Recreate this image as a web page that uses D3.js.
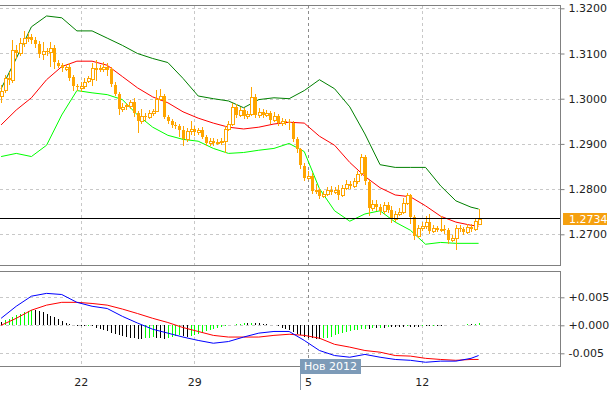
<!DOCTYPE html>
<html>
<head>
<meta charset="utf-8" />
<title>EURUSD H4</title>
<script src="https://d3js.org/d3.v7.min.js"></script>
<style>
  body { margin: 0; background: #fff; }
  text { font-family: "DejaVu Sans", Verdana, sans-serif; font-size: 11px; }
</style>
</head>
<body>
<svg id="chart" width="614" height="396"></svg>
<script>
// 4H candles, index 0 = first visible bar
var opens = [
  1.3006, 1.3018, 1.3045, 1.3040, 1.3107, 1.3100, 1.3123, 1.3134, 1.3136, 1.3130,
  1.3121, 1.3098, 1.3105, 1.3103, 1.3112, 1.3080, 1.3074, 1.3067, 1.3071, 1.3047,
  1.3027, 1.3024, 1.3029, 1.3038, 1.3045, 1.3069, 1.3065, 1.3067, 1.3071, 1.3065,
  1.3031, 1.3011, 1.2977, 1.2982, 1.2985, 1.2993, 1.2968, 1.2951, 1.2962, 1.2960,
  1.2968, 1.2973, 1.3000, 1.3006, 1.2960, 1.2951, 1.2942, 1.2939, 1.2930, 1.2910,
  1.2928, 1.2933, 1.2926, 1.2930, 1.2915, 1.2901, 1.2906, 1.2901, 1.2904, 1.2906,
  1.2933, 1.2944, 1.2982, 1.2964, 1.2975, 1.2962, 1.2966, 1.3004, 1.2964, 1.2971,
  1.2964, 1.2968, 1.2953, 1.2962, 1.2946, 1.2951, 1.2948, 1.2946, 1.2910, 1.2888,
  1.2852, 1.2825, 1.2830, 1.2796, 1.2798, 1.2785, 1.2790, 1.2798, 1.2794, 1.2798,
  1.2787, 1.2803, 1.2812, 1.2807, 1.2819, 1.2834, 1.2870, 1.2816, 1.2758, 1.2767,
  1.2760, 1.2751, 1.2765, 1.2754, 1.2734, 1.2745, 1.2749, 1.2769, 1.2787, 1.2738,
  1.2696, 1.2713, 1.2718, 1.2727, 1.2707, 1.2713, 1.2709, 1.2711, 1.2709, 1.2687,
  1.2691, 1.2713, 1.2711, 1.2704, 1.2716, 1.2711, 1.2722
];
var highs = [
  1.3030, 1.3052, 1.3058, 1.3130, 1.3118, 1.3135, 1.3150, 1.3145, 1.3143, 1.3136,
  1.3128, 1.3125, 1.3112, 1.3125, 1.3118, 1.3086, 1.3080, 1.3077, 1.3078, 1.3052,
  1.3032, 1.3036, 1.3045, 1.3050, 1.3080, 1.3085, 1.3075, 1.3082, 1.3078, 1.3070,
  1.3036, 1.3015, 1.2990, 1.2990, 1.2998, 1.3002, 1.2972, 1.2978, 1.2968, 1.2975,
  1.2978, 1.3020, 1.3022, 1.3010, 1.2965, 1.2955, 1.2948, 1.2945, 1.2940, 1.2935,
  1.2950, 1.2940, 1.2936, 1.2938, 1.2920, 1.2912, 1.2912, 1.2910, 1.2912, 1.2940,
  1.2950, 1.2990, 1.2988, 1.2982, 1.2980, 1.2972, 1.3025, 1.3010, 1.2980, 1.2978,
  1.2975, 1.2972, 1.2970, 1.2966, 1.2958, 1.2956, 1.2955, 1.2950, 1.2915, 1.2892,
  1.2858, 1.2840, 1.2835, 1.2812, 1.2802, 1.2796, 1.2804, 1.2806, 1.2805, 1.2810,
  1.2808, 1.2820, 1.2818, 1.2825, 1.2840, 1.2878, 1.2875, 1.2820, 1.2775, 1.2775,
  1.2768, 1.2772, 1.2772, 1.2762, 1.2752, 1.2758, 1.2780, 1.2792, 1.2790, 1.2742,
  1.2720, 1.2728, 1.2740, 1.2745, 1.2720, 1.2718, 1.2740, 1.2720, 1.2714, 1.2698,
  1.2720, 1.2720, 1.2716, 1.2722, 1.2722, 1.2735, 1.2757
];
var lows = [
  1.2990, 1.3012, 1.3030, 1.3035, 1.3088, 1.3095, 1.3115, 1.3125, 1.3120, 1.3112,
  1.3090, 1.3085, 1.3094, 1.3070, 1.3065, 1.3068, 1.3058, 1.3062, 1.3040, 1.3018,
  1.3017, 1.3015, 1.3022, 1.3034, 1.3028, 1.3040, 1.3058, 1.3060, 1.3050, 1.3025,
  1.3005, 1.2965, 1.2970, 1.2975, 1.2978, 1.2960, 1.2925, 1.2945, 1.2950, 1.2955,
  1.2962, 1.2970, 1.2995, 1.2955, 1.2945, 1.2936, 1.2932, 1.2915, 1.2895, 1.2905,
  1.2920, 1.2918, 1.2920, 1.2910, 1.2895, 1.2896, 1.2895, 1.2898, 1.2898, 1.2880,
  1.2928, 1.2940, 1.2958, 1.2960, 1.2955, 1.2955, 1.2962, 1.2958, 1.2958, 1.2958,
  1.2960, 1.2945, 1.2948, 1.2940, 1.2940, 1.2942, 1.2930, 1.2905, 1.2880, 1.2845,
  1.2818, 1.2820, 1.2790, 1.2790, 1.2778, 1.2780, 1.2785, 1.2788, 1.2790, 1.2775,
  1.2782, 1.2798, 1.2800, 1.2802, 1.2812, 1.2830, 1.2810, 1.2740, 1.2752, 1.2752,
  1.2742, 1.2745, 1.2748, 1.2725, 1.2728, 1.2740, 1.2745, 1.2765, 1.2722, 1.2688,
  1.2692, 1.2708, 1.2712, 1.2700, 1.2702, 1.2704, 1.2705, 1.2700, 1.2678, 1.2682,
  1.2665, 1.2705, 1.2698, 1.2700, 1.2706, 1.2708, 1.2720
];
var closes = [
  1.3018, 1.3045, 1.3040, 1.3107, 1.3100, 1.3123, 1.3134, 1.3136, 1.3130, 1.3121,
  1.3098, 1.3105, 1.3103, 1.3112, 1.3080, 1.3074, 1.3067, 1.3071, 1.3047, 1.3027,
  1.3024, 1.3029, 1.3038, 1.3045, 1.3069, 1.3065, 1.3067, 1.3071, 1.3065, 1.3031,
  1.3011, 1.2977, 1.2982, 1.2985, 1.2993, 1.2968, 1.2951, 1.2962, 1.2960, 1.2968,
  1.2973, 1.3000, 1.3006, 1.2960, 1.2951, 1.2942, 1.2939, 1.2930, 1.2910, 1.2928,
  1.2933, 1.2926, 1.2930, 1.2915, 1.2901, 1.2906, 1.2901, 1.2904, 1.2906, 1.2933,
  1.2944, 1.2982, 1.2964, 1.2975, 1.2962, 1.2966, 1.3004, 1.2964, 1.2971, 1.2964,
  1.2968, 1.2953, 1.2962, 1.2946, 1.2951, 1.2948, 1.2946, 1.2910, 1.2888, 1.2852,
  1.2825, 1.2830, 1.2796, 1.2798, 1.2785, 1.2790, 1.2798, 1.2794, 1.2798, 1.2787,
  1.2803, 1.2812, 1.2807, 1.2819, 1.2834, 1.2870, 1.2816, 1.2758, 1.2767, 1.2760,
  1.2751, 1.2765, 1.2754, 1.2734, 1.2745, 1.2749, 1.2769, 1.2787, 1.2738, 1.2696,
  1.2713, 1.2718, 1.2727, 1.2707, 1.2713, 1.2709, 1.2711, 1.2709, 1.2687, 1.2691,
  1.2713, 1.2711, 1.2704, 1.2716, 1.2711, 1.2729, 1.2734
];

// Bollinger bands, read every 4 bars
var bandIndex = [0, 4, 8, 12, 16, 20, 24, 28, 32, 36, 40, 44, 48, 52, 56, 60,
  64, 68, 72, 76, 80, 84, 88, 92, 96, 100, 104, 108, 112, 116, 120, 124, 126];
var bandUpper = [1.3022, 1.3089, 1.3159, 1.3183, 1.3179, 1.3150, 1.3150, 1.3134,
  1.3118, 1.3100, 1.3089, 1.3080, 1.3045, 1.3006, 1.3000, 1.2995, 1.2980, 1.2998,
  1.3002, 1.3000, 1.3018, 1.3042, 1.3022, 1.2982, 1.2922, 1.2854, 1.2848, 1.2848,
  1.2848, 1.2807, 1.2774, 1.2760, 1.2756];
var bandMiddle = [1.2942, 1.2975, 1.3002, 1.3042, 1.3071, 1.3083, 1.3083, 1.3074,
  1.3049, 1.3024, 1.3004, 1.2991, 1.2971, 1.2957, 1.2946, 1.2937, 1.2933, 1.2937,
  1.2944, 1.2948, 1.2946, 1.2917, 1.2897, 1.2859, 1.2828, 1.2803, 1.2787, 1.2783,
  1.2763, 1.2740, 1.2727, 1.2720, 1.2718];
var bandLower = [1.2872, 1.2879, 1.2872, 1.2897, 1.2964, 1.3018, 1.3013, 1.3009,
  1.2998, 1.2964, 1.2937, 1.2919, 1.2910, 1.2906, 1.2890, 1.2879, 1.2881, 1.2886,
  1.2890, 1.2901, 1.2883, 1.2801, 1.2752, 1.2729, 1.2745, 1.2752, 1.2727, 1.2709,
  1.2678, 1.2682, 1.2680, 1.2680, 1.2680];

// MACD main and signal lines at the same bars
var macdMain = [0.00125, 0.0034, 0.0052, 0.0057, 0.0055, 0.0041, 0.0034, 0.0030,
  0.0016, 0.0004, -0.0007, -0.0014, -0.0021, -0.0027, -0.0032, -0.0029, -0.0021,
  -0.0014, -0.0011, -0.0011, -0.0027, -0.0045, -0.0054, -0.0057, -0.0052, -0.0057,
  -0.0061, -0.00625, -0.0066, -0.0064, -0.0064, -0.0059, -0.0054];
var macdSignal = [0.0000, 0.00125, 0.0027, 0.0036, 0.0041, 0.0041, 0.0039, 0.0036,
  0.0029, 0.0021, 0.00125, 0.0005, -0.0004, -0.0011, -0.0018, -0.0021, -0.0021,
  -0.0021, -0.0018, -0.0016, -0.0018, -0.0023, -0.0034, -0.0039, -0.0045, -0.0048,
  -0.0054, -0.0055, -0.0059, -0.0061, -0.00625, -0.0061, -0.0061];

// histogram, one value per bar
var macdHist = [
  0.0006, 0.0009, 0.0012, 0.0015, 0.0018, 0.0021, 0.0024, 0.0026, 0.0028,
  0.0027, 0.0025, 0.0023, 0.0020, 0.0017, 0.0014, 0.0011, 0.0008, 0.0005, 0.0003,
  0.0001, -0.0001, -0.0001, -0.0002, -0.0001, -0.0002,
  -0.0004, -0.0006, -0.0009, -0.0011, -0.0013, -0.0015, -0.0017, -0.0019, -0.0020, -0.0022, -0.0023, -0.0024, -0.0024,
  -0.0023, -0.0022, -0.0021, -0.0022, -0.0023, -0.0024, -0.0022, -0.0020, -0.0019, -0.0018,
  -0.0019, -0.0020, -0.0019, -0.0017, -0.0015, -0.0013, -0.0011, -0.0009, -0.0007, -0.0005, -0.0003, -0.0001, 0.0000,
  0.0001, 0.0002, 0.0003, 0.0004, 0.0004, 0.0005, 0.0005, 0.0004, 0.0003, 0.0002, 0.0001, 0.0000,
  -0.0002, -0.0004, -0.0006, -0.0009, -0.0012, -0.0015, -0.0018, -0.0020, -0.0022, -0.0023, -0.0024, -0.0024, -0.0023, -0.0022,
  -0.0020, -0.0018, -0.0016, -0.0014, -0.0012, -0.0010, -0.0009, -0.0008, -0.0007, -0.0006, -0.0006, -0.0005, -0.0005, -0.0004,
  -0.0004, -0.0003, -0.0003, -0.0003, -0.0003, -0.0003, -0.0002, -0.0003, -0.0003, -0.0003, -0.0002, -0.0002, -0.0002,
  -0.0001, -0.0001, -0.0001, 0.0000, 0.0000, 0.0001, 0.0001, 0.0001, 0.0001, 0.0002, 0.0002, 0.0003, 0.0005
];

var tickIndex = [21, 51, 81, 111];
var tickLabels = ["22", "29", "5", "12"];
var monthLabel = "Нов 2012";
var priceTicks = [1.27, 1.28, 1.29, 1.30, 1.31, 1.32];
var macdTicks = [-0.005, 0, 0.005];
var lastPrice = 1.2734;

var svg = d3.select("#chart");
var x = d3.scaleLinear().domain([0, 126]).range([1.1, 478.6]);
var y = d3.scaleLinear().domain([1.27, 1.32]).range([234.3, 8.3]);
var yM = d3.scaleLinear().domain([-0.005, 0.005]).range([353.3, 297.3]);
var px = function(v){ return Math.round(v) + 0.5; };

svg.append("rect").attr("width", 614).attr("height", 396).attr("fill", "#fff");

var defs = svg.append("defs");
defs.append("clipPath").attr("id", "clipMain").append("rect")
  .attr("x", 0).attr("y", 5).attr("width", 560).attr("height", 260);
defs.append("clipPath").attr("id", "clipMacd").append("rect")
  .attr("x", 0).attr("y", 271).attr("width", 560).attr("height", 95);

// grid
var grid = svg.append("g").attr("shape-rendering", "crispEdges");
grid.selectAll(".hg").data(priceTicks).enter().append("line")
  .attr("x1", 0).attr("x2", 560)
  .attr("y1", function(d){ return px(y(d)); }).attr("y2", function(d){ return px(y(d)); })
  .attr("stroke", "#c8c8c8").attr("stroke-dasharray", "3,3");
grid.selectAll(".hm").data(macdTicks).enter().append("line")
  .attr("x1", 0).attr("x2", 560)
  .attr("y1", function(d){ return px(yM(d)); }).attr("y2", function(d){ return px(yM(d)); })
  .attr("stroke", "#c8c8c8").attr("stroke-dasharray", "3,3");
[[5, 265], [271, 366]].forEach(function(r){
  grid.selectAll(null).data(tickIndex).enter().append("line")
    .attr("x1", function(d){ return px(x(d)); }).attr("x2", function(d){ return px(x(d)); })
    .attr("y1", r[0]).attr("y2", r[1])
    .attr("stroke", function(d){ return d === 81 ? "#8c8c8c" : "#c8c8c8"; })
    .attr("stroke-dasharray", "3,3");
});

// main panel
var main = svg.append("g").attr("clip-path", "url(#clipMain)");
var bandLine = function(arr){
  return d3.line().x(function(d, i){ return x(bandIndex[i]); })
    .y(function(d){ return y(d); })(arr);
};
main.append("path").attr("d", bandLine(bandUpper)).attr("fill", "none").attr("stroke", "#008000");
main.append("path").attr("d", bandLine(bandLower)).attr("fill", "none").attr("stroke", "#00ff00");
main.append("path").attr("d", bandLine(bandMiddle)).attr("fill", "none").attr("stroke", "#ff0000");

var candles = main.append("g").attr("shape-rendering", "crispEdges");
var idx = d3.range(closes.length);
candles.selectAll(".wick").data(idx).enter().append("line")
  .attr("x1", function(i){ return px(x(i)); }).attr("x2", function(i){ return px(x(i)); })
  .attr("y1", function(i){ return y(highs[i]); }).attr("y2", function(i){ return y(lows[i]); })
  .attr("stroke", "#ffa500");
candles.selectAll(".body").data(idx).enter().append("rect")
  .attr("x", function(i){ return Math.round(x(i)) - 1; })
  .attr("width", 3)
  .attr("y", function(i){ return Math.round(y(Math.max(opens[i], closes[i]))); })
  .attr("height", function(i){ return Math.max(1, Math.round(Math.abs(y(opens[i]) - y(closes[i])))); })
  .attr("fill", function(i){ return closes[i] > opens[i] ? "#fff" : "#ffa500"; })
  .attr("stroke", "#ffa500").attr("stroke-width", function(i){ return closes[i] > opens[i] ? 1 : 0; });

// last price line
svg.append("line").attr("x1", 0).attr("x2", 560)
  .attr("y1", Math.floor(y(lastPrice)) + 0.5).attr("y2", Math.floor(y(lastPrice)) + 0.5)
  .attr("stroke", "#000").attr("shape-rendering", "crispEdges");

// macd panel
var macd = svg.append("g").attr("clip-path", "url(#clipMacd)");
macd.selectAll(".bar").data(idx).enter().append("line")
  .attr("x1", function(i){ return px(x(i)); }).attr("x2", function(i){ return px(x(i)); })
  .attr("y1", yM(0)).attr("y2", function(i){ return yM(macdHist[i]); })
  .attr("stroke", function(i){ return i > 0 && macdHist[i] > macdHist[i - 1] ? "#00ff00" : "#000"; })
  .attr("shape-rendering", "crispEdges");
var macdLine = function(arr){
  return d3.line().x(function(d, i){ return x(bandIndex[i]); })
    .y(function(d){ return yM(d); })(arr);
};
macd.append("path").attr("d", macdLine(macdSignal)).attr("fill", "none").attr("stroke", "#ff0000");
macd.append("path").attr("d", macdLine(macdMain)).attr("fill", "none").attr("stroke", "#0000ff");

// frames
var frame = svg.append("g").attr("fill", "none").attr("stroke", "#808080").attr("shape-rendering", "crispEdges");
frame.append("path").attr("d", "M0,5.5H560.5V265.5H0");
frame.append("path").attr("d", "M0,271.5H560.5V366.5H0");

// axes
var yAxis = d3.axisRight(y).tickValues(priceTicks).tickFormat(d3.format(".4f")).tickSize(4).tickPadding(4);
var gy = svg.append("g").attr("transform", "translate(560.5,0)").call(yAxis);
var mAxis = d3.axisRight(yM).tickValues(macdTicks)
  .tickFormat(function(d){ return (d < 0 ? "-" : "+") + Math.abs(d).toFixed(3); })
  .tickSize(4).tickPadding(4);
var gm = svg.append("g").attr("transform", "translate(560.5,0)").call(mAxis);
var xAxis = d3.axisBottom(x).tickValues(tickIndex)
  .tickFormat(function(d, i){ return tickLabels[i]; }).tickSize(0).tickPadding(12);
var gx = svg.append("g").attr("transform", "translate(0,366)").call(xAxis);
[gy, gm, gx].forEach(function(g){
  g.select(".domain").remove();
  g.selectAll("line").attr("stroke", "#808080");
  g.selectAll("text").attr("fill", "#222").style("font-size", "11px")
    .style("font-family", "'DejaVu Sans', Verdana, sans-serif");
});

// last price tag
var ly = y(lastPrice);
svg.append("rect").attr("x", 563).attr("y", Math.round(ly) - 6).attr("width", 44).attr("height", 12)
  .attr("fill", "#f5a00f");
svg.append("text").attr("x", 569).attr("y", ly).attr("dy", "0.35em")
  .attr("fill", "#fff").text(d3.format(".4f")(lastPrice));

// month tag
var mx = x(81);
svg.append("line").attr("x1", 300.5).attr("x2", 300.5).attr("y1", 359).attr("y2", 390)
  .attr("stroke", "#8a9bb0").attr("shape-rendering", "crispEdges");
svg.append("rect").attr("x", 300).attr("y", 359).attr("width", 61).attr("height", 15).attr("fill", "#7d9bb8");
svg.append("text").attr("x", 330.5).attr("y", 366.5).attr("dy", "0.35em").attr("text-anchor", "middle")
  .attr("fill", "#fff").text(monthLabel);
</script>
</body>
</html>
